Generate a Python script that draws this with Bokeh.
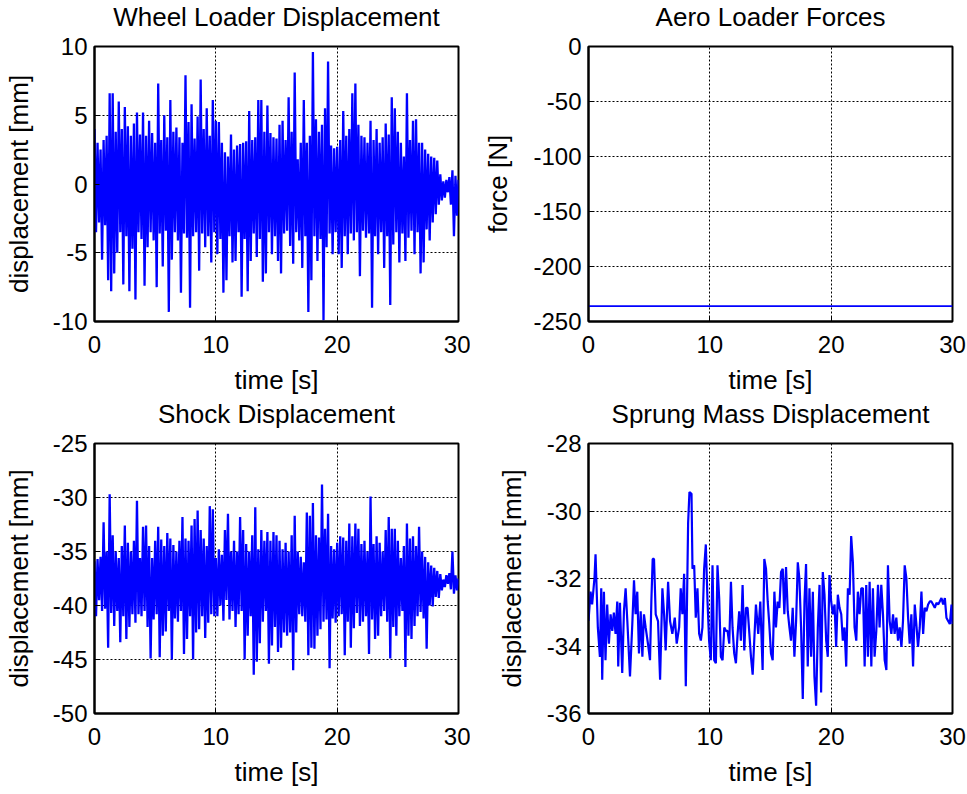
import numpy as np
from bokeh.plotting import figure
from bokeh.layouts import column, row
from bokeh.models import Range1d, FixedTicker, CustomJSTickFormatter
from bokeh.core.properties import value
from bokeh.embed import file_html
from bokeh.resources import INLINE

# ---------------- data ----------------
x_ticks = [0, 10, 20, 30]
top_titles = ["Wheel Loader Displacement", "Aero Loader Forces"]
bottom_titles = ["Shock Displacement", "Sprung Mass Displacement"]

# Wheel loader displacement: upper excursions (t = 0, 0.25, ... 30)
wheel_up = [4.0, 3.0, 2.5, 3.2, 3.5, 6.6, 6.6, 3.8,
            6.0, 4.0, 5.6, 4.2, 3.5, 4.4, 5.2, 3.6,
            5.2, 3.5, 4.6, 3.7, 3.0, 7.3, 3.2, 5.0,
            3.4, 6.1, 3.8, 4.1, 3.4, 3.0, 7.9, 4.5,
            5.8, 3.3, 4.9, 7.6, 4.0, 5.5, 3.5, 6.1,
            4.6, 4.5, 3.0, 2.3, 2.0, 3.6, 2.5, 2.8,
            2.9, 3.0, 3.1, 5.3, 3.2, 3.4, 6.1, 6.1,
            3.8, 5.7, 3.7, 3.4, 3.3, 4.3, 4.6, 3.2,
            6.3, 3.8, 8.1, 1.8, 3.0, 6.1, 3.0, 3.5,
            9.6, 4.7, 3.8, 4.3, 5.5, 8.9, 2.8, 2.6,
            2.7, 3.2, 5.3, 3.5, 4.0, 6.6, 7.3, 4.3,
            3.5, 3.4, 3.0, 4.6, 3.2, 4.0, 3.0, 3.4,
            4.4, 3.6, 6.3, 5.5, 3.8, 3.0, 2.0, 6.6,
            3.2, 4.6, 4.7, 3.0, 3.0, 2.5, 2.2, 2.0,
            1.9, 1.7, 0.7, 0.2, 0.3, 0.5, 1.0, 0.6,
            0.3]
# lower excursions (t = 0.125, 0.375, ... 29.875)
wheel_low = [-3.5, -2.8, -5.5, -3.0, -7.0, -7.8, -6.5, -5.0,
             -3.5, -7.3, -3.8, -7.8, -4.7, -8.4, -3.5, -4.0,
             -7.4, -4.6, -3.5, -4.1, -7.5, -3.6, -6.0, -3.4,
             -9.3, -5.5, -3.5, -4.1, -7.9, -3.6, -3.9, -9.0,
             -3.8, -3.5, -6.3, -3.6, -4.6, -3.8, -5.7, -3.5,
             -5.1, -4.0, -7.9, -7.0, -3.8, -5.7, -5.6, -3.5,
             -8.2, -4.0, -7.8, -5.6, -3.6, -5.3, -4.0, -7.1,
             -6.5, -3.5, -5.1, -3.8, -5.6, -6.5, -3.6, -3.4,
             -4.5, -5.8, -3.5, -4.1, -6.1, -3.8, -9.3, -7.0,
             -3.8, -5.6, -4.0, -9.9, -4.6, -3.6, -5.1, -3.5,
             -5.1, -6.1, -3.8, -5.1, -3.6, -4.1, -3.5, -6.7,
             -3.4, -3.9, -3.6, -9.0, -3.8, -5.1, -3.5, -6.1,
             -3.8, -8.8, -4.4, -3.5, -5.7, -3.6, -5.6, -3.9,
             -3.4, -5.1, -3.5, -6.5, -5.7, -3.3, -4.1, -2.8,
             -2.2, -1.5, -1.2, -1.0, -0.6, -1.5, -3.8, -2.3]

# Aero loader force (constant)
aero_t = [0, 30]
aero_force = [-236, -236]

# Shock displacement
shock_up = [-35.9, -35.7, -35.5, -32.3, -35.0, -29.7, -33.5, -35.0,
            -35.6, -34.5, -32.6, -34.2, -35.0, -34.0, -30.3, -35.6,
            -32.7, -32.6, -34.5, -35.6, -34.0, -32.7, -33.9, -34.5,
            -33.3, -33.8, -34.4, -35.0, -34.0, -31.8, -33.8, -34.0,
            -32.6, -32.0, -31.2, -33.0, -33.8, -34.5, -30.8, -31.1,
            -35.6, -34.8, -35.3, -33.0, -31.5, -35.0, -34.0, -35.0,
            -31.8, -33.0, -34.3, -35.0, -33.5, -30.9, -34.8, -33.0,
            -34.0, -33.2, -34.0, -33.2, -33.5, -34.0, -34.8, -34.2,
            -35.0, -33.5, -31.7, -35.0, -35.5, -36.0, -31.4, -31.7,
            -30.5, -33.5, -33.7, -28.8, -32.9, -31.5, -34.5, -34.8,
            -34.2, -33.6, -33.7, -34.0, -32.4, -33.6, -32.4, -32.9,
            -34.3, -34.0, -35.0, -29.9, -34.3, -33.6, -34.2, -35.0,
            -33.0, -31.8, -32.9, -32.9, -34.0, -35.6, -34.5, -32.4,
            -33.8, -33.6, -34.5, -32.7, -35.0, -35.5, -36.0, -36.3,
            -36.5, -36.8, -37.1, -37.6, -37.2, -37.0, -35.0, -37.2,
            -37.5]
shock_low = [-41.0, -39.5, -40.5, -40.3, -43.9, -40.7, -41.9, -40.5,
             -43.4, -41.0, -43.1, -42.0, -40.8, -41.6, -40.8, -41.0,
             -40.5, -42.0, -44.9, -41.3, -40.8, -44.8, -42.8, -42.4,
             -40.5, -45.0, -41.2, -41.5, -40.5, -44.5, -43.1, -41.0,
             -45.0, -42.5, -42.2, -41.0, -43.0, -41.6, -40.8, -41.0,
             -41.0, -40.0, -41.4, -39.5, -41.3, -40.5, -42.0, -40.8,
             -40.5, -45.0, -42.8, -41.0, -46.4, -45.2, -43.5, -41.5,
             -40.5, -45.4, -43.7, -42.0, -44.3, -43.9, -42.5, -42.8,
             -42.5, -46.0, -42.5, -40.8, -41.0, -41.5, -44.6, -43.9,
             -44.0, -42.8, -42.2, -41.5, -41.3, -45.8, -41.2, -41.6,
             -41.0, -40.8, -44.6, -41.5, -43.9, -42.1, -40.7, -41.9,
             -41.5, -41.0, -44.5, -41.3, -43.1, -42.8, -41.0, -40.5,
             -41.5, -44.9, -42.0, -42.8, -41.0, -40.5, -45.7, -42.8,
             -43.1, -41.9, -41.0, -40.6, -41.2, -44.0, -40.0, -40.1,
             -39.2, -39.3, -38.6, -38.3, -38.0, -38.5, -38.9, -38.6]

# Sprung mass displacement
sprung_t = [0.0, 0.17, 0.30, 0.50, 0.58, 0.77, 0.94, 1.05, 1.13, 1.27,
            1.40, 1.54, 1.68, 1.82, 1.96, 2.09, 2.23, 2.37, 2.45, 2.59,
            2.78, 2.92, 3.06, 3.20, 3.42, 3.61, 3.75, 3.88, 4.02, 4.16,
            4.30, 4.44, 4.57, 4.71, 4.90, 5.07, 5.18, 5.29, 5.40, 5.54,
            5.73, 5.90, 6.09, 6.23, 6.36, 6.56, 6.72, 6.91, 7.11, 7.27,
            7.47, 7.60, 7.74, 7.88, 8.02, 8.21, 8.32, 8.49, 8.57, 8.71,
            8.84, 8.98, 9.12, 9.26, 9.39, 9.53, 9.67, 9.81, 9.94, 10.08,
            10.22, 10.36, 10.50, 10.63, 10.77, 10.91, 11.05, 11.19, 11.32, 11.46,
            11.60, 11.74, 11.87, 12.01, 12.15, 12.29, 12.42, 12.56, 12.70, 12.84,
            12.98, 13.11, 13.39, 13.53, 13.80, 13.99, 14.16, 14.35, 14.49, 14.63,
            14.77, 14.90, 15.04, 15.18, 15.32, 15.45, 15.59, 15.73, 15.87, 16.01,
            16.14, 16.28, 16.42, 16.56, 16.69, 16.83, 16.97, 17.11, 17.25, 17.38,
            17.52, 17.66, 17.80, 17.93, 18.07, 18.21, 18.35, 18.49, 18.62, 18.76,
            18.90, 19.04, 19.17, 19.31, 19.45, 19.59, 19.72, 19.86, 20.00, 20.14,
            20.28, 20.41, 20.55, 20.69, 20.83, 20.96, 21.10, 21.24, 21.38, 21.52,
            21.65, 21.79, 21.93, 22.07, 22.20, 22.34, 22.48, 22.62, 22.76, 22.89,
            23.03, 23.17, 23.31, 23.44, 23.58, 23.72, 23.86, 23.99, 24.13, 24.27,
            24.41, 24.55, 24.68, 24.82, 24.96, 25.10, 25.23, 25.37, 25.51, 25.65,
            25.79, 25.92, 26.06, 26.20, 26.34, 26.47, 26.61, 26.75, 26.89, 27.02,
            27.16, 27.30, 27.44, 27.58, 27.71, 27.85, 27.99, 28.13, 28.26, 28.40,
            28.54, 28.68, 28.82, 28.95, 29.09, 29.23, 29.37, 29.50, 29.64, 29.78,
            29.92, 30.0]
sprung_v = [-33.26, -32.39, -32.77, -31.95, -31.28, -33.45, -34.32, -32.29, -35.00, -32.39,
            -34.42, -32.77, -33.93, -33.06, -33.55, -33.01, -33.64, -32.68, -34.61, -32.72,
            -34.80, -32.97, -32.29, -33.26, -34.90, -33.35, -32.05, -33.06, -32.39, -34.22,
            -32.97, -34.32, -33.06, -33.45, -33.93, -34.42, -32.68, -31.42, -31.42, -33.06,
            -33.26, -35.00, -32.29, -33.06, -34.13, -32.10, -33.26, -33.64, -33.16, -33.93,
            -33.45, -32.29, -33.06, -31.86, -35.19, -30.36, -29.44, -29.49, -31.71, -31.61,
            -33.16, -32.29, -33.64, -33.84, -33.45, -31.71, -30.99, -32.68, -33.84, -34.42,
            -31.61, -34.42, -34.51, -31.61, -32.58, -34.32, -34.42, -33.45, -33.55, -33.55,
            -33.93, -32.10, -33.45, -34.22, -34.51, -33.64, -32.97, -33.84, -32.19, -34.13,
            -32.87, -32.87, -34.32, -34.85, -32.77, -33.64, -32.68, -34.71, -31.42, -31.71,
            -32.68, -33.35, -34.22, -34.42, -32.39, -33.45, -32.68, -32.87, -31.81, -31.71,
            -33.06, -31.66, -32.97, -33.45, -33.84, -32.87, -34.32, -33.26, -31.52, -32.00,
            -33.45, -35.57, -32.68, -31.57, -34.61, -32.29, -34.32, -32.39, -34.90, -35.77,
            -33.45, -32.19, -35.38, -31.81, -32.48, -33.84, -34.32, -31.90, -32.68, -33.06,
            -32.77, -34.03, -32.48, -32.87, -33.06, -33.84, -33.45, -34.61, -32.29, -32.48,
            -30.74, -31.52, -33.45, -33.84, -32.39, -33.06, -32.29, -32.29, -34.61, -32.19,
            -34.32, -32.10, -34.61, -32.29, -34.32, -33.55, -32.19, -33.45, -32.19, -33.06,
            -34.42, -34.71, -31.61, -33.26, -33.64, -33.06, -33.64, -33.16, -33.84, -33.45,
            -34.03, -33.26, -31.61, -32.00, -33.16, -33.93, -33.06, -34.61, -32.77, -33.35,
            -34.03, -33.45, -32.39, -33.64, -32.87, -32.97, -32.77, -32.68, -32.68, -32.77,
            -32.87, -32.72, -32.77, -32.68, -32.58, -32.77, -32.58, -33.16, -33.26, -33.35,
            -32.77, -33.35]

wheel_yticks = [-10, -5, 0, 5, 10]
aero_yticks = [-250, -200, -150, -100, -50, 0]
shock_yticks = [-50, -45, -40, -35, -30, -25]
sprung_yticks = [-36, -34, -32, -30, -28]


def interleave(up, low):
    tu = np.linspace(0.0, 30.0, len(up))
    tl = np.linspace(0.125, 29.875, len(low))
    t = np.concatenate([tu, tl])
    v = np.concatenate([np.asarray(up, float), np.asarray(low, float)])
    order = np.argsort(t, kind="stable")
    return t[order], v[order]


FONT = "Liberation Sans"
BLUE = "#0000FF"
plain = CustomJSTickFormatter(code="return tick.toString();")
PAGE_W = 966
FRAME_CENTERS = [276, 770]   # pixel centres of the left / right plot frames
TEXT_DROP = 10               # rendered baseline sits ~10px below the requested y


def title_strip(titles, height, baseline_from_top):
    t = figure(width=PAGE_W, height=height, title=None,
               x_range=Range1d(0, PAGE_W), y_range=Range1d(0, height),
               x_axis_type=None, y_axis_type=None,
               output_backend="svg", toolbar_location=None, min_border=0)
    t.outline_line_color = None
    t.grid.visible = False
    t.background_fill_color = "white"
    t.border_fill_color = "white"
    ypos = height - (baseline_from_top - TEXT_DROP)
    t.text(x=FRAME_CENTERS, y=[ypos] * len(titles), text=titles,
           text_align="center", text_baseline="alphabetic",
           text_font=value(FONT), text_font_size="26px", text_color="black")
    return t


def make_fig(ylabel, yrange, yticks, width, height, ml, mr, mt, mb, ylab_standoff):
    p = figure(width=width, height=height, title=None,
               x_range=Range1d(0, 30), y_range=Range1d(*yrange),
               output_backend="svg", toolbar_location=None,
               min_border_left=ml, min_border_right=mr,
               min_border_top=mt, min_border_bottom=mb)
    p.background_fill_color = "white"
    p.border_fill_color = "white"
    p.outline_line_color = "black"
    p.outline_line_width = 2
    p.outline_line_alpha = 1.0

    p.xaxis.ticker = FixedTicker(ticks=x_ticks)
    p.yaxis.ticker = FixedTicker(ticks=yticks)
    p.xaxis.formatter = plain
    p.yaxis.formatter = plain
    p.xaxis.axis_label = "time [s]"
    p.yaxis.axis_label = ylabel
    for ax in (p.xaxis, p.yaxis):
        ax.axis_line_color = "black"
        ax.axis_line_width = 2
        ax.major_tick_in = 5
        ax.major_tick_out = 0
        ax.minor_tick_line_color = None
        ax.major_tick_line_color = "black"
        ax.major_label_text_font = FONT
        ax.major_label_text_font_size = "24px"
        ax.major_label_text_color = "black"
        ax.axis_label_text_font = FONT
        ax.axis_label_text_font_size = "26px"
        ax.axis_label_text_font_style = "normal"
        ax.axis_label_text_color = "black"
    p.xaxis.major_label_standoff = 14
    p.xaxis.axis_label_standoff = 9
    p.yaxis.major_label_standoff = 7
    p.yaxis.axis_label_standoff = ylab_standoff

    p.grid.grid_line_color = "black"
    p.grid.grid_line_alpha = 1.0
    p.grid.grid_line_width = 1
    p.grid.grid_line_dash = "2 2"
    return p


# frames at x 94..458 / 588..952, y 46..321 / 443..719 (page has no margin)
title_top = title_strip(top_titles, 33, 26.7)
p1 = make_fig("displacement [mm]", (-10, 10), wheel_yticks, 470, 369, 94, 12, 13, 81, 16)
t1, v1 = interleave(wheel_up, wheel_low)
p1.line(t1, v1, line_color=BLUE, line_width=2.3)

p2 = make_fig("force [N]", (-250, 0), aero_yticks, 496, 369, 118, 14, 13, 81, 17)
p2.line(aero_t, aero_force, line_color=BLUE, line_width=1.6)

title_bottom = title_strip(bottom_titles, 28, 21.3)
p3 = make_fig("displacement [mm]", (-50, -25), shock_yticks, 470, 359, 94, 12, 13, 70, 16)
t3, v3 = interleave(shock_up, shock_low)
p3.line(t3, v3, line_color=BLUE, line_width=2.3)

p4 = make_fig("displacement [mm]", (-36, -28), sprung_yticks, 496, 359, 118, 14, 13, 70, 17)
p4.line(sprung_t, sprung_v, line_color=BLUE, line_width=2.2)

layout = column(title_top, row(p1, p2), title_bottom, row(p3, p4))

open("out.html", "w").write(file_html(layout, INLINE))
